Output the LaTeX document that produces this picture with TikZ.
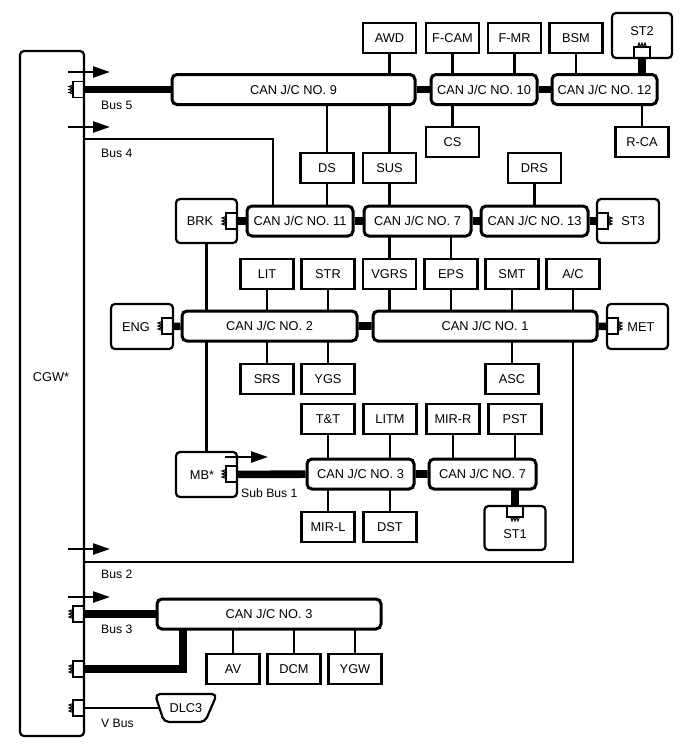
\documentclass[tikz,border=0pt]{standalone}
\usepackage{fontspec}
\setmainfont{Liberation Sans}
\usetikzlibrary{arrows.meta,backgrounds}
\begin{document}
\begin{tikzpicture}[x=1pt,y=-1pt,
 box/.style={draw,line width=2.2pt,fill=white,minimum height=30pt,minimum width=53pt,inner sep=0pt,font=\fontsize{12.8}{14}\selectfont},
 rbox/.style={box,rounded corners=4pt},
 can/.style={draw,line width=3pt,fill=white,rounded corners=5pt,minimum height=30pt,inner sep=0pt,font=\fontsize{12.8}{14}\selectfont},
 txt/.style={inner sep=0pt,font=\fontsize{12.8}{14}\selectfont},
 conn/.style={line width=2.4pt},
 bus/.style={line width=7.6pt},
 gwarrow/.style={line width=2.4pt,-{Triangle[length=17pt,width=11pt]}},
 buslabel/.style={anchor=west,inner sep=0pt,font=\fontsize{12.2}{14}\selectfont},
 resis/.pic={\draw[line width=1.4pt] (0,-8) -- (-11,-8) -- (-11,8) -- (0,8);
   \draw[line width=1pt] (-11,-4.5) -- (-15,-3) -- (-11,-1.5) -- (-15,0) -- (-11,1.5) -- (-15,3) -- (-11,4.5);}
]
\useasboundingbox (0,0) rectangle (688,755);

% gateway
\node[box,minimum width=64pt,minimum height=685pt,rounded corners=4pt] (cgw) at (52,393.5) {};
\node[txt] (cgwl) at (51,377) {CGW*};

% top row
\node[can,minimum width=243pt] (can9) at (293.5,89.5) {CAN J/C NO. 9};
\node[can,minimum width=106pt] (can10) at (484,89.5) {CAN J/C NO. 10};
\node[can,minimum width=105pt] (can12) at (604.5,89.5) {CAN J/C NO. 12};
\node[box] (awd) at (389.5,38) {AWD};
\node[box] (fcam) at (452.5,38) {F-CAM};
\node[box] (fmr) at (514.5,38) {F-MR};
\node[box] (bsm) at (576,38) {BSM};
\node[rbox,minimum width=60pt,minimum height=45pt] (st2) at (642,35.5) {};
\node[txt] (st2l) at (642,31) {ST2};
\node[box] (cs) at (452.5,142) {CS};
\node[box] (rca) at (642,142) {R-CA};

% second row
\node[box] (ds) at (327,168) {DS};
\node[box] (sus) at (389.5,168) {SUS};
\node[box] (drs) at (534.5,168) {DRS};
\node[can,minimum width=106pt] (can11) at (300,221) {CAN J/C NO. 11};
\node[can,minimum width=107pt] (can7) at (417.5,221) {CAN J/C NO. 7};
\node[can,minimum width=107pt] (can13) at (534.5,221) {CAN J/C NO. 13};
\node[rbox,minimum width=61pt,minimum height=44pt] (brk) at (206.5,221) {};
\node[txt] (brkl) at (200,221) {BRK};
\node[rbox,minimum width=62pt,minimum height=44pt] (st3) at (628,221) {};
\node[txt] (st3l) at (633,221) {ST3};

% third row
\node[box] (lit) at (267,274) {LIT};
\node[box] (str) at (328,274) {STR};
\node[box] (vgrs) at (389.5,274) {VGRS};
\node[box] (eps) at (451,274) {EPS};
\node[box] (smt) at (512,274) {SMT};
\node[box] (ac) at (573,274) {A/C};
\node[can,minimum width=175pt] (can2) at (269.5,326) {CAN J/C NO. 2};
\node[can,minimum width=224pt] (can1) at (485,326) {CAN J/C NO. 1};
\node[rbox,minimum width=62pt,minimum height=45pt] (eng) at (142,326.5) {};
\node[txt] (engl) at (136,327) {ENG};
\node[rbox,minimum width=61pt,minimum height=45pt] (met) at (637.5,326.5) {};
\node[txt] (metl) at (641,327) {MET};
\node[box] (srs) at (267,379) {SRS};
\node[box] (ygs) at (328,379) {YGS};
\node[box] (asc) at (512,379) {ASC};

% fourth row
\node[box] (tt) at (328,419) {T\&T};
\node[box] (litm) at (390,419) {LITM};
\node[box] (mirr) at (453,419) {MIR-R};
\node[box] (pst) at (515,419) {PST};
\node[can,minimum width=107pt] (can3) at (360.5,474) {CAN J/C NO. 3};
\node[can,minimum width=107pt] (can7b) at (482.5,474) {CAN J/C NO. 7};
\node[rbox,minimum width=61pt,minimum height=45pt] (mb) at (206.5,474.5) {};
\node[txt] (mbl) at (202,475) {MB*};
\node[rbox,minimum width=61pt,minimum height=44pt] (st1) at (515,528) {};
\node[txt] (st1l) at (515,534) {ST1};
\node[box] (mirl) at (328,527) {MIR-L};
\node[box] (dst) at (390,527) {DST};

% bottom
\node[can,minimum width=224pt] (can3b) at (269,614) {CAN J/C NO. 3};
\node[box] (av) at (233,669) {AV};
\node[box] (dcm) at (294,669) {DCM};
\node[box] (ygw) at (355,669) {YGW};
\filldraw[fill=white,line width=2.2pt,rounded corners=5pt] (155,694) -- (217,694) -- (205,722) -- (164,722) -- cycle;
\node[txt] (dlc) at (186,708) {DLC3};

% coordinates
\coordinate (b5) at (84,89.5);
\coordinate (b4) at (84,139);
\coordinate (b4c) at (273,221);
\coordinate (b2) at (84,562);
\coordinate (b3) at (84,614);
\coordinate (b3b) at (84,669);
\coordinate (b3c) at (183,614);
\coordinate (bv) at (84,708);
\coordinate (a5s) at (68,72);   \coordinate (a5e) at (110,72);
\coordinate (a4s) at (68,127);  \coordinate (a4e) at (110,127);
\coordinate (a2s) at (68,549);  \coordinate (a2e) at (110,549);
\coordinate (a3s) at (68,597);  \coordinate (a3e) at (110,597);
\coordinate (ams) at (225,457); \coordinate (ame) at (268,457);

\begin{scope}[on background layer]
\draw[conn] (awd) -- (awd |- can1);
\draw[conn] (fcam) -- (cs);
\draw[conn] (fmr) -- (fmr |- can10);
\draw[conn] (bsm) -- (bsm |- can12);
\draw[conn] (rca) -- (rca |- can12);
\draw[bus] (st2) -- (st2 |- can12);
\draw[conn] (ds |- can9) -- (ds |- can11);
\draw[conn] (drs) -- (drs |- can13);
\draw[conn] (eps |- can7) -- (eps |- can1);
\draw[conn] (b4) -| (b4c);
\draw[conn] (brk) -- (mb);
\draw[conn] (lit) -- (srs);
\draw[conn] (str) -- (ygs);
\draw[conn] (smt) -- (asc);
\draw[conn] (b2) -| (ac);
\draw[conn] (tt) -- (mirl);
\draw[conn] (litm) -- (dst);
\draw[conn] (mirr) -- (mirr |- can7b);
\draw[conn] (pst) -- (pst |- can7b);
\draw[bus] (st1) -- (st1 |- can7b);
\draw[conn] (av) -- (av |- can3b);
\draw[conn] (dcm) -- (dcm |- can3b);
\draw[conn] (ygw) -- (ygw |- can3b);
\draw[conn] (bv) -- (dlc);
\draw[bus] (b5) -- (can9) -- (can10) -- (can12);
\draw[bus] (brk) -- (can11) -- (can7) -- (can13) -- (st3);
\draw[bus] (eng) -- (can2) -- (can1) -- (met);
\draw[bus] (mb) -- (can3) -- (can7b);
\draw[bus] (b3) -- (can3b);
\draw[bus] (b3b) -| (b3c);
\end{scope}

% terminating resistors
\pic at (84,89.5) {resis};
\pic at (84,614) {resis};
\pic at (84,669) {resis};
\pic at (84,708) {resis};
\pic at (237,221) {resis};
\pic at (173,326) {resis};
\pic at (237,474) {resis};
\pic[rotate=180] at (597,221) {resis};
\pic[rotate=180] at (607,326) {resis};
\pic[rotate=-90] at (642,58) {resis};
\pic[rotate=90] at (515,506) {resis};

% arrows
\draw[gwarrow] (a5s) -- (a5e);
\draw[gwarrow] (a4s) -- (a4e);
\draw[gwarrow] (a2s) -- (a2e);
\draw[gwarrow] (a3s) -- (a3e);
\draw[gwarrow] (ams) -- (ame);

% bus labels
\node[buslabel] (l5) at (101,105) {Bus 5};
\node[buslabel] (l4) at (101,153) {Bus 4};
\node[buslabel] (l2) at (101,574) {Bus 2};
\node[buslabel] (l3) at (101,629) {Bus 3};
\node[buslabel] (lv) at (101,723) {V Bus};
\node[buslabel] (lsb) at (241,493) {Sub Bus 1};
\end{tikzpicture}
\end{document}
